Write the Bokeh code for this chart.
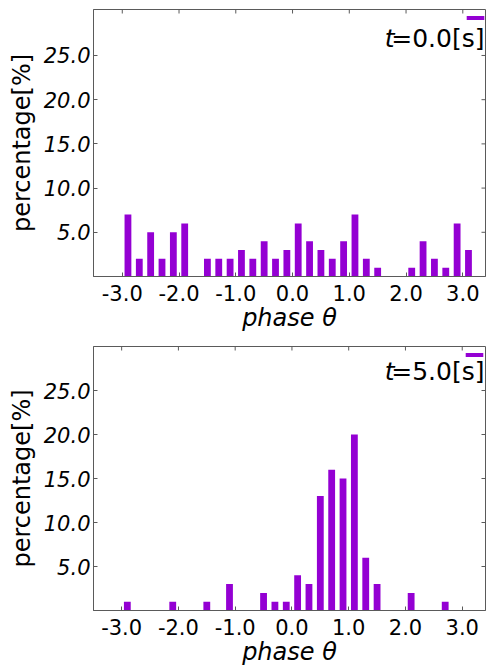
import math
from bokeh.plotting import figure
from bokeh.models import (FixedTicker, Range1d, Label, Legend, LegendItem,
                          ColumnDataSource)
from bokeh.layouts import column
from bokeh.embed import file_html
from bokeh.resources import INLINE

# ---- data ----
phase_centers = [-2.9, -2.7, -2.5, -2.3, -2.1, -1.9, -1.7, -1.5, -1.3, -1.1,
                 -0.9, -0.7, -0.5, -0.3, -0.1, 0.1, 0.3, 0.5, 0.7, 0.9,
                 1.1, 1.3, 1.5, 1.7, 1.9, 2.1, 2.3, 2.5, 2.7, 2.9, 3.1]
pct_t0 = [7, 2, 5, 2, 5, 6, 0, 2, 2, 2,
          3, 2, 4, 2, 3, 6, 4, 3, 2, 4,
          7, 2, 1, 0, 0, 1, 4, 2, 1, 6, 3]
pct_t5 = [1, 0, 0, 0, 1, 0, 0, 1, 0, 3,
          0, 0, 2, 1, 1, 4, 3, 13, 16, 15,
          20, 6, 3, 0, 0, 2, 0, 0, 1, 0, 0]
times = ["0.0", "5.0"]
x_ticks = [-3.0, -2.0, -1.0, 0.0, 1.0, 2.0, 3.0]
x_tick_labels = ["-3.0", "-2.0", "-1.0", "0.0", "1.0", "2.0", "3.0"]
y_ticks = [5, 10, 15, 20, 25]
y_tick_labels = ["5.0", "10.0", "15.0", "20.0", "25.0"]

BAR = "#9400D3"
SPINE = "#5a5a5a"
FONT = "DejaVu Sans"


def make_panel(pcts, tval, height, b_left, b_right, b_top, b_bottom,
               x_start, x_end, y_end, text_y, frame_w, frame_h):
    p = figure(width=491, height=height, output_backend="svg",
               toolbar_location=None,
               x_range=Range1d(x_start, x_end), y_range=Range1d(0, y_end),
               min_border_left=b_left, min_border_right=b_right,
               min_border_top=b_top, min_border_bottom=b_bottom)
    p.grid.visible = False
    p.outline_line_color = SPINE
    p.outline_line_alpha = 1.0
    p.background_fill_color = "white"

    src = ColumnDataSource(dict(x=phase_centers, top=pcts))
    r = p.vbar(x="x", top="top", bottom=0, width=0.12, source=src,
               fill_color=BAR, line_color=None)

    # inward tick marks on the top and right spines
    p.scatter(x=x_ticks, y=[y_end] * len(x_ticks), marker="dash",
              angle=math.pi / 2, size=8, line_color=SPINE, line_width=1)
    p.scatter(x=[x_end] * len(y_ticks), y=y_ticks, marker="dash",
              size=8, line_color=SPINE, line_width=1)

    # bottom axis
    xa = p.xaxis[0]
    xa.ticker = FixedTicker(ticks=x_ticks)
    xa.major_label_overrides = {t: l for t, l in zip(x_ticks, x_tick_labels)}
    xa.major_tick_in = 4
    xa.major_tick_out = 0
    xa.minor_tick_in = 0
    xa.minor_tick_out = 0
    xa.axis_line_color = SPINE
    xa.major_tick_line_color = SPINE
    xa.major_label_text_font = FONT
    xa.major_label_text_font_size = "21px"
    xa.major_label_text_color = "black"
    xa.major_label_standoff = 8
    xa.axis_label = "phase θ"
    xa.axis_label_text_font = FONT
    xa.axis_label_text_font_style = "italic"
    xa.axis_label_text_font_size = "24px"
    xa.axis_label_text_color = "black"
    xa.axis_label_standoff = 0

    # left axis
    ya = p.yaxis[0]
    ya.ticker = FixedTicker(ticks=y_ticks)
    ya.major_label_overrides = {t: l for t, l in zip(y_ticks, y_tick_labels)}
    ya.major_tick_in = 4
    ya.major_tick_out = 0
    ya.minor_tick_in = 0
    ya.minor_tick_out = 0
    ya.axis_line_color = SPINE
    ya.major_tick_line_color = SPINE
    ya.major_label_text_font = FONT
    ya.major_label_text_font_style = "italic"
    ya.major_label_text_font_size = "21px"
    ya.major_label_text_color = "black"
    ya.major_label_standoff = 3
    ya.axis_label = "percentage[%]"
    ya.axis_label_text_font = FONT
    ya.axis_label_text_font_style = "normal"
    ya.axis_label_text_font_size = "24px"
    ya.axis_label_text_color = "black"
    ya.axis_label_standoff = 5

    # legend patch (empty-label legend as in the original)
    leg = Legend(items=[LegendItem(label=" ", renderers=[r])],
                 location=(frame_w - 24, frame_h - 12),
                 glyph_width=22, glyph_height=5,
                 label_width=0, label_height=0, label_standoff=0, padding=0,
                 margin=0, spacing=0, border_line_color=None,
                 background_fill_alpha=0, label_text_font_size="1px")
    p.add_layout(leg)

    # time text: italic t followed by "=x.x[s]"
    p.add_layout(Label(x=x_end, y=text_y, x_offset=-1, text="=" + tval + "[s]",
                       text_align="right", text_baseline="middle",
                       text_font=FONT, text_font_size="25px",
                       text_color="black"))
    p.add_layout(Label(x=x_end, y=text_y, x_offset=-91, text="t",
                       text_align="right", text_baseline="middle",
                       text_font=FONT, text_font_style="italic",
                       text_font_size="25px", text_color="black"))
    return p


# top panel: frame x 93..488, y 9..277 ; bottom panel: frame x 91..485, y 346..611
p1 = make_panel(pct_t0, times[0], 334, 93, 3, 9, 57,
                -3.507, 3.40, 30.2, 26.9, 395, 268)
p2 = make_panel(pct_t5, times[1], 334, 91, 6, 12, 57,
                -3.496, 3.41, 30.0, 27.2, 394, 265)

layout = column(p1, p2, spacing=0)
open("out.html", "w").write(file_html(layout, INLINE))
